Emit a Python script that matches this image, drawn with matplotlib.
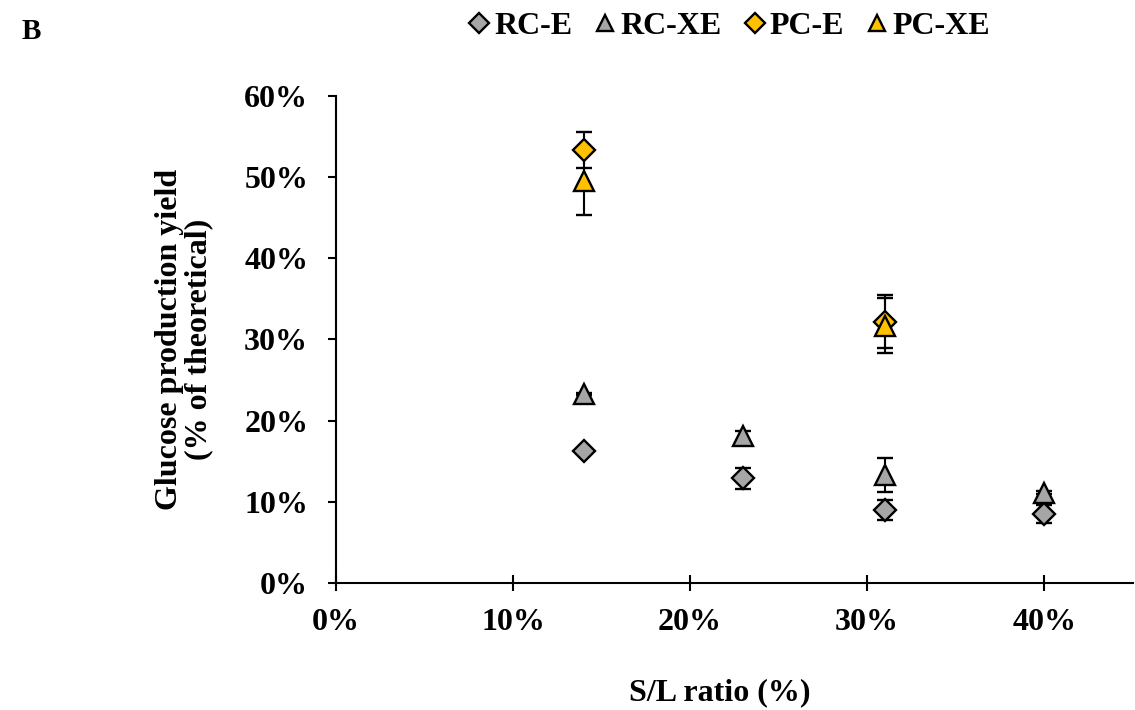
import numpy as np
import matplotlib
matplotlib.use('Agg')
import matplotlib.pyplot as plt
from matplotlib.ticker import PercentFormatter

#%% data
sl_rc = [14, 23, 31, 40]
rc_e = [16.2, 12.9, 9.0, 8.5]
rc_e_err = [0.1, 1.3, 1.2, 1.1]
rc_xe = [23.3, 18.1, 13.3, 11.1]
rc_xe_err = [0.1, 0.6, 2.1, 0.2]

sl_pc = [14, 31]
pc_e = [53.3, 32.2]
pc_e_err = [2.2, 3.3]
pc_xe = [49.5, 31.7]
pc_xe_err = [4.2, 3.4]

x_ticks = [0, 10, 20, 30, 40]
y_ticks = [0, 10, 20, 30, 40, 50, 60]

#%% style
plt.rcParams['font.family'] = ['Liberation Serif', 'DejaVu Serif']
plt.rcParams['font.weight'] = 'bold'
fs = 23
grey = '#a6a6a6'
gold = '#ffc000'

fig = plt.figure(figsize=(11.35, 7.1), dpi=100)
ax = fig.add_axes([0.296, 0.179, 0.702, 0.686])

series = [
    ('RC-E', sl_rc, rc_e, rc_e_err, 'D', grey, 11.5),
    ('RC-XE', sl_rc, rc_xe, rc_xe_err, '^', grey, 14),
    ('PC-E', sl_pc, pc_e, pc_e_err, 'D', gold, 11.5),
    ('PC-XE', sl_pc, pc_xe, pc_xe_err, '^', gold, 14),
]
for name, xs, ys, es, mk, col, ms in series:
    ax.errorbar(xs, ys, yerr=es, fmt=mk, color='black', mfc=col, mec='black',
                mew=1.7, ms=ms, ecolor='black', elinewidth=1.5, capsize=6,
                capthick=1.5, label=name, zorder=3)

ax.set_xlim(0, 45)
ax.set_ylim(0, 60)
ax.set_xticks(x_ticks)
ax.set_yticks(y_ticks)
ax.xaxis.set_major_formatter(PercentFormatter(decimals=0))
ax.yaxis.set_major_formatter(PercentFormatter(decimals=0))
ax.spines['top'].set_visible(False)
ax.spines['right'].set_visible(False)
ax.spines['left'].set_linewidth(1.5)
ax.spines['bottom'].set_linewidth(1.5)
ax.tick_params(axis='both', width=1.5, labelsize=fs)
ax.tick_params(axis='y', direction='out', length=6, pad=14)
ax.tick_params(axis='x', direction='inout', length=12, pad=12)
for lab in ax.get_xticklabels() + ax.get_yticklabels():
    lab.set_fontweight('bold')

ax.set_xlabel('S/L ratio (%)', fontsize=fs, fontweight='bold', labelpad=30, x=0.482)
ax.set_ylabel('Glucose production yield\n(% of theoretical)', fontsize=fs,
              fontweight='bold', labelpad=22, linespacing=1.05)

handles, labels = ax.get_legend_handles_labels()
handles = [h[0] for h in handles]
fig.legend(handles, labels, loc='center', bbox_to_anchor=(0.642, 0.963), ncol=4,
           frameon=False, handletextpad=0.1, columnspacing=0.65,
           handlelength=0.75, markerscale=0.85,
           prop={'family': ['Liberation Serif'], 'weight': 'bold', 'size': fs})

fig.text(0.019, 0.955, 'B', fontsize=21, fontweight='bold', ha='left', va='center')

fig.savefig('out.png', dpi=100)
